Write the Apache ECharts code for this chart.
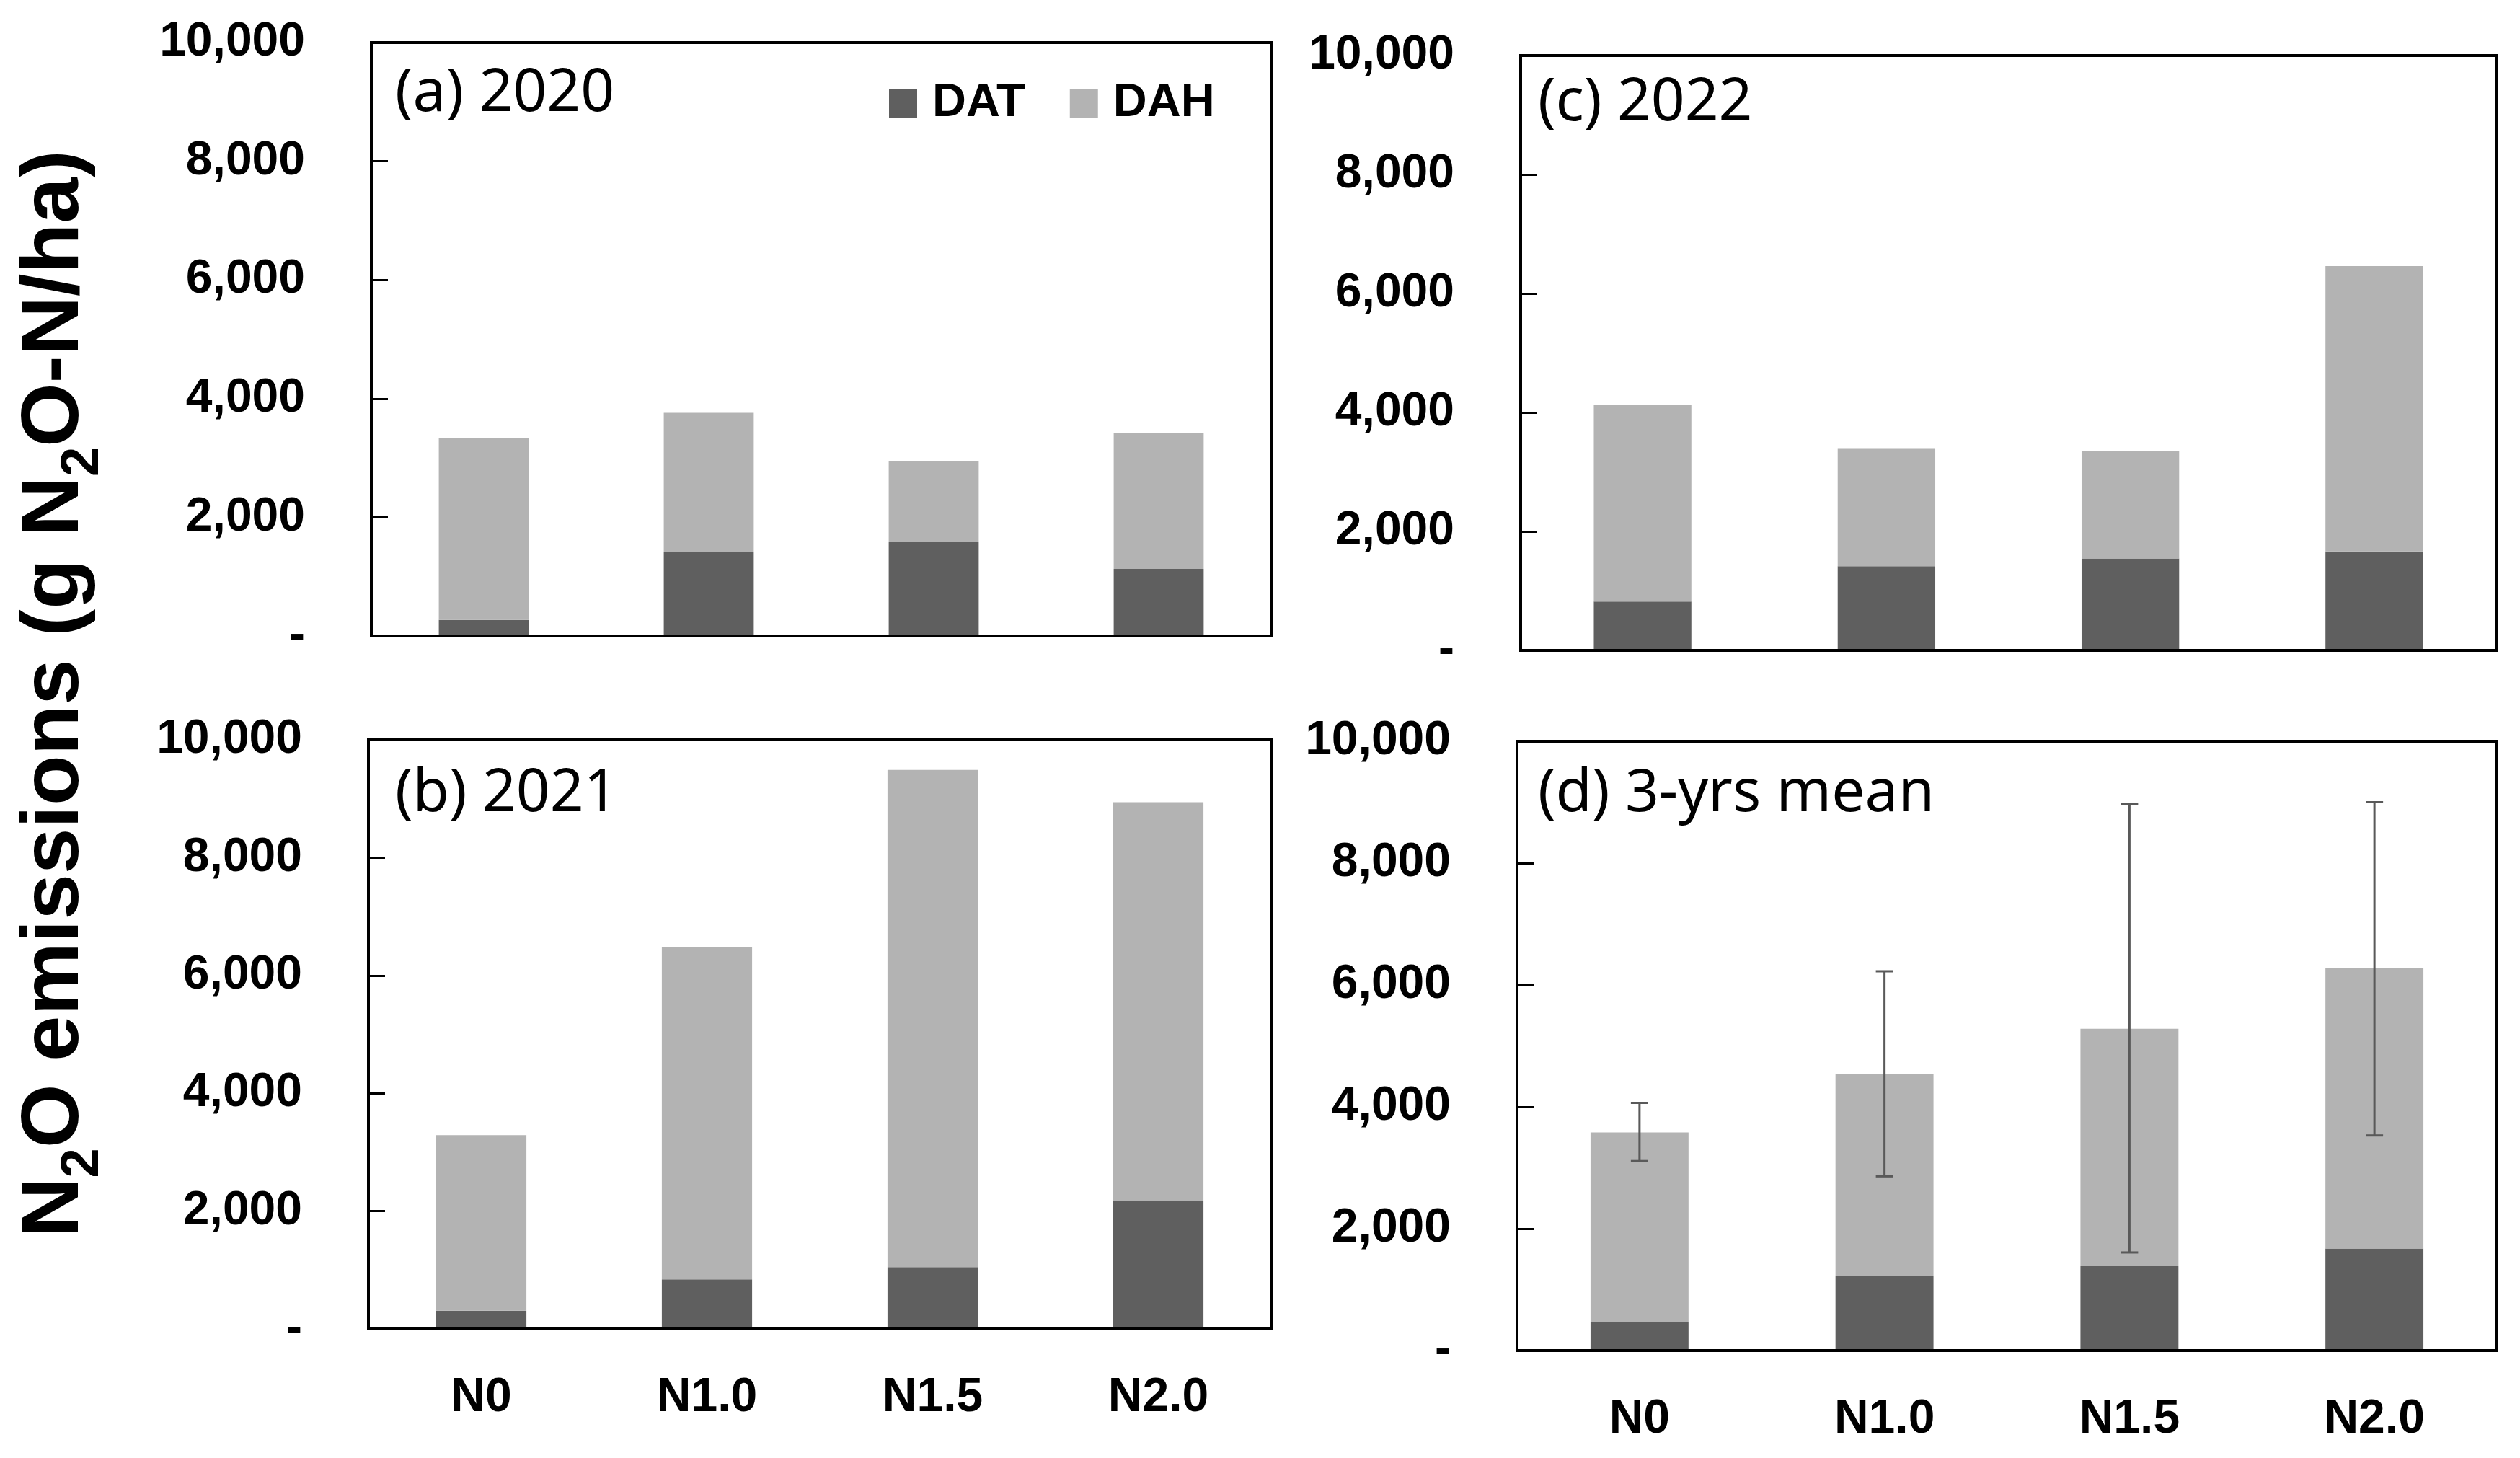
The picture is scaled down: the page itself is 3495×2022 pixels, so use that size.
<!DOCTYPE html>
<html>
<head>
<meta charset="utf-8">
<script src="https://cdn.jsdelivr.net/npm/echarts@6/dist/echarts.min.js"></script>
<style>
  html, body { margin: 0; padding: 0; background: #fff; }
  #chart { width: 3495px; height: 2022px; }
</style>
</head>
<body>
<div id="chart"></div>
<script>
// ---------- data ----------
const categories = ['N0', 'N1.0', 'N1.5', 'N2.0'];
const yTicks = [0, 2000, 4000, 6000, 8000, 10000];

const dat2020 = [270, 1420, 1580, 1130];
const dah2020 = [3070, 2340, 1370, 2290];

const dat2021 = [310, 840, 1050, 2170];
const dah2021 = [2980, 5640, 8440, 6770];

const dat2022 = [820, 1415, 1545, 1665];
const dah2022 = [3300, 1985, 1810, 4795];

const datMean = [470, 1225, 1385, 1675];
const dahMean = [3110, 3310, 3895, 4600];
const errLow  = [3110, 2860, 1610, 3530];
const errHigh = [4065, 6225, 8965, 9000];

const panelTitles = ['(a) 2020', '(b) 2021', '(c) 2022', '(d) 3-yrs mean'];
const seriesNames = ['DAT', 'DAH'];
// ---------- style ----------
const COL_DAT = '#5f5f5f';
const COL_DAH = '#b3b3b3';
const LBL_FONT = 'Liberation Sans';
const TITLE_FONT = 'Noto Sans';

const grids = [
  { left: 515,  top: 59,   width: 1248, height: 823 }, // a
  { left: 511,  top: 1026, width: 1252, height: 817 }, // b
  { left: 2109, top: 77,   width: 1353, height: 825 }, // c
  { left: 2104, top: 1028, width: 1359, height: 845 }  // d
];
const titlePos = [
  { left: 548,  top: 90 },
  { left: 548,  top: 1061 },
  { left: 2133, top: 103 },
  { left: 2133, top: 1061 }
];
const showXLabels = [false, true, false, true];
const panelData = [
  [dat2020, dah2020],
  [dat2021, dah2021],
  [dat2022, dah2022],
  [datMean, dahMean]
];

const fmt = v => v === 0 ? '-' : v.toLocaleString('en-US');

const option = {
  animation: false,
  backgroundColor: '#ffffff',
  title: panelTitles.map((t, i) => ({
    text: t,
    left: titlePos[i].left,
    top: titlePos[i].top,
    padding: 0,
    textStyle: { fontFamily: TITLE_FONT, fontSize: 82, fontWeight: 'normal', color: '#000' }
  })),
  legend: {
    data: seriesNames,
    left: 1233,
    top: 111,
    padding: 0,
    icon: 'rect',
    itemWidth: 39,
    itemHeight: 39,
    itemGap: 62,
    selectedMode: false,
    textStyle: { fontFamily: LBL_FONT, fontSize: 65, fontWeight: 'bold', color: '#000', padding: [0, 0, 0, 16] }
  },
  grid: grids.map(g => Object.assign({ show: true, borderColor: '#000', borderWidth: 4, backgroundColor: 'transparent' }, g)),
  xAxis: grids.map((g, i) => ({
    type: 'category',
    gridIndex: i,
    data: categories,
    z: 5,
    axisLine: { show: true, lineStyle: { color: '#000', width: 4 } },
    axisTick: { show: false },
    axisLabel: {
      show: showXLabels[i],
      margin: 63,
      fontFamily: LBL_FONT, fontSize: 66, fontWeight: 'bold', color: '#000'
    },
    splitLine: { show: false }
  })),
  yAxis: grids.map((g, i) => ({
    type: 'value',
    gridIndex: i,
    min: yTicks[0],
    max: yTicks[yTicks.length - 1],
    interval: yTicks[1] - yTicks[0],
    z: 5,
    axisLine: { show: true, lineStyle: { color: '#000', width: 4 } },
    axisTick: { show: true, inside: true, length: 23, lineStyle: { color: '#000', width: 3 } },
    axisLabel: {
      margin: 92,
      formatter: fmt,
      fontFamily: LBL_FONT, fontSize: 66, fontWeight: 'bold', color: '#000'
    },
    splitLine: { show: false }
  })),
  series: [],
  graphic: [{
    type: 'text',
    x: 77,
    y: 962,
    rotation: Math.PI / 2,
    style: {
      text: 'N{s|2}O emissions (g N{s|2}O-N/ha)',
      fontFamily: LBL_FONT,
      fontSize: 114,
      fontWeight: 'bold',
      lineHeight: 152,
      fill: '#000',
      align: 'center',
      verticalAlign: 'middle',
      rich: {
        s: { fontFamily: LBL_FONT, fontSize: 74, fontWeight: 'bold', verticalAlign: 'bottom', fill: '#000' }
      }
    }
  }]
};

panelData.forEach((pd, i) => {
  option.series.push({
    name: seriesNames[0], type: 'bar', stack: 'p' + i,
    xAxisIndex: i, yAxisIndex: i, barWidth: '40%',
    itemStyle: { color: COL_DAT }, data: pd[0]
  });
  option.series.push({
    name: seriesNames[1], type: 'bar', stack: 'p' + i,
    xAxisIndex: i, yAxisIndex: i, barWidth: '40%',
    itemStyle: { color: COL_DAH }, data: pd[1]
  });
});

option.series.push({
  name: 'SD',
  type: 'custom',
  xAxisIndex: 3, yAxisIndex: 3,
  z: 10,
  data: categories.map((c, k) => [k, errLow[k], errHigh[k]]),
  encode: { x: 0, y: [1, 2] },
  renderItem: function (params, api) {
    const x = api.value(0);
    const lo = api.coord([x, api.value(1)]);
    const hi = api.coord([x, api.value(2)]);
    const hw = 12;
    const st = { stroke: '#595959', lineWidth: 3 };
    return {
      type: 'group',
      children: [
        { type: 'line', shape: { x1: lo[0], y1: lo[1], x2: hi[0], y2: hi[1] }, style: st },
        { type: 'line', shape: { x1: lo[0] - hw, y1: lo[1], x2: lo[0] + hw, y2: lo[1] }, style: st },
        { type: 'line', shape: { x1: hi[0] - hw, y1: hi[1], x2: hi[0] + hw, y2: hi[1] }, style: st }
      ]
    };
  }
});

const chart = echarts.init(document.getElementById('chart'), null, { renderer: 'canvas' });
chart.setOption(option);
</script>
</body>
</html>
